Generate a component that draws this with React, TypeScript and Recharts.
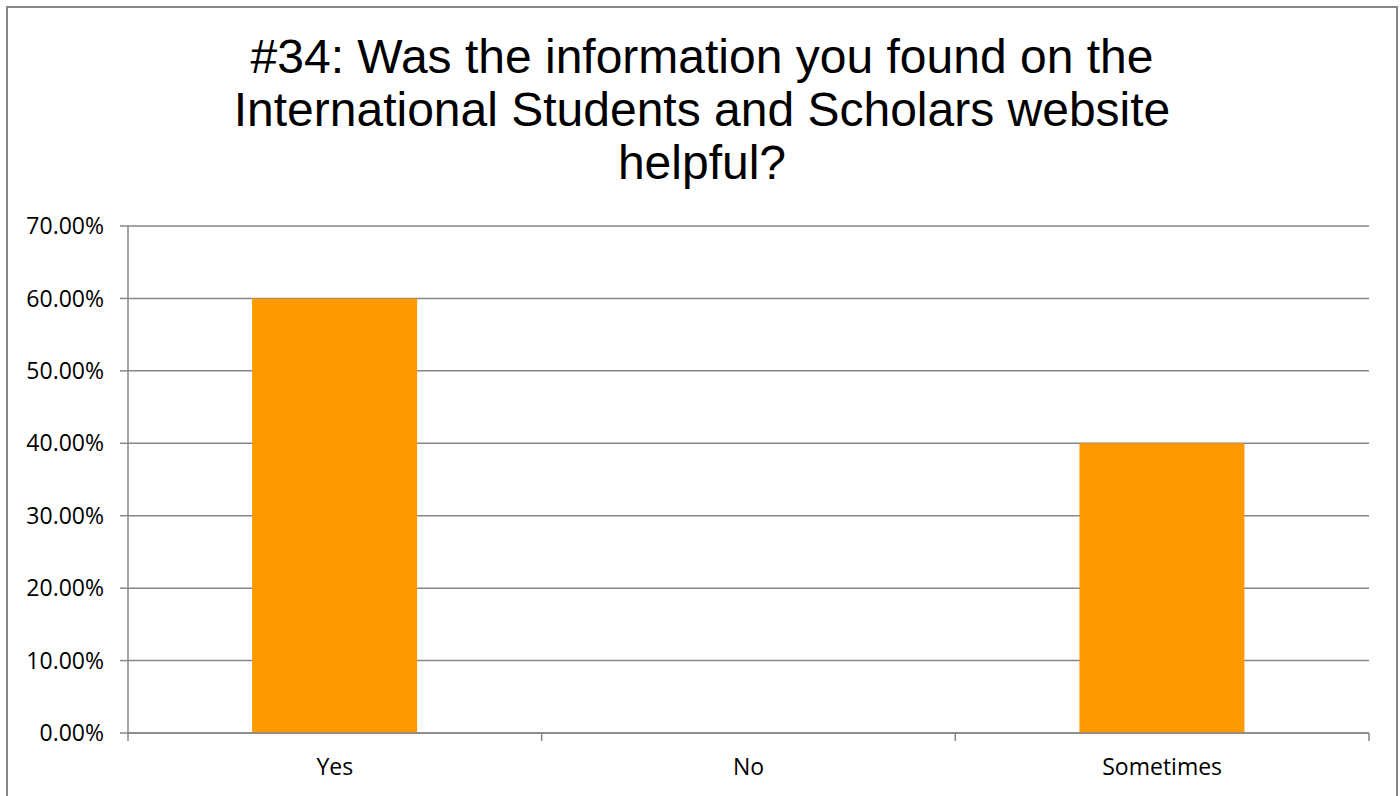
import React from 'react';
import { BarChart, Bar, XAxis, YAxis, CartesianGrid } from 'recharts';

const categories = ['Yes', 'No', 'Sometimes'];
const shares = [0.6, 0, 0.4];
const yTicks = [0, 0.1, 0.2, 0.3, 0.4, 0.5, 0.6, 0.7];
const titleLines = [
  '#34: Was the information you found on the',
  'International Students and Scholars website',
  'helpful?',
];

const data = categories.map((name, i) => ({ name, value: shares[i] }));

const GRAY = '#868686';
const TICK_SIZE = 8;
const TICK_MARGIN = 18;
const labelFont = { fontFamily: '"Open Sans", sans-serif', fontSize: 23, fill: '#000' };

// category label at the band centre, tick marks at the band edges
const EdgeTick = (props: any) => {
  const { x, y, payload, index, visibleTicksCount } = props;
  const half = payload.offset || 0;
  const y1 = y - TICK_MARGIN - TICK_SIZE;
  const y2 = y - TICK_MARGIN;
  return (
    <g>
      <line x1={x - half} x2={x - half} y1={y1} y2={y2} stroke={GRAY} strokeWidth={1.5} />
      {index === visibleTicksCount - 1 && (
        <line x1={x + half} x2={x + half} y1={y1} y2={y2} stroke={GRAY} strokeWidth={1.5} />
      )}
      <text x={x} y={y} dy="0.71em" textAnchor="middle" {...labelFont}>
        {payload.value}
      </text>
    </g>
  );
};

export default function App() {
  return (
    <div style={{ position: 'absolute', left: 0, top: 0, width: 1400, height: 796, overflow: 'hidden', background: '#fff' }}>
      <div
        style={{
          position: 'absolute',
          left: 6,
          top: 6,
          width: 1392,
          height: 820,
          border: `2px solid ${GRAY}`,
          boxSizing: 'border-box',
        }}
      />
      <div
        style={{
          position: 'absolute',
          left: 0,
          top: 30,
          width: 1404,
          textAlign: 'center',
          fontFamily: '"Liberation Sans", Arial, sans-serif',
          fontSize: 48,
          lineHeight: '53px',
          color: '#000',
        }}
      >
        {titleLines.map((t) => (
          <div key={t}>{t}</div>
        ))}
      </div>
      <div style={{ position: 'absolute', left: 0, top: 0 }}>
        <BarChart
          width={1400}
          height={796}
          data={data}
          margin={{ top: 226, right: 31, left: 0, bottom: 23 }}
          barCategoryGap="30%"
        >
          <CartesianGrid vertical={false} stroke={GRAY} strokeWidth={1.5} />
          <XAxis
            dataKey="name"
            height={40}
            stroke={GRAY}
            strokeWidth={1.5}
            tickLine={false}
            tickSize={TICK_SIZE}
            tickMargin={TICK_MARGIN}
            tick={<EdgeTick />}
            interval={0}
          />
          <YAxis
            width={128}
            domain={[0, 0.7]}
            ticks={yTicks}
            tickFormatter={(v: number) => `${(v * 100).toFixed(2)}%`}
            stroke={GRAY}
            strokeWidth={1.5}
            tickSize={TICK_SIZE}
            tickMargin={16}
            tick={labelFont}
          />
          <Bar dataKey="value" fill="#FF9900" isAnimationActive={false} />
        </BarChart>
      </div>
    </div>
  );
}
